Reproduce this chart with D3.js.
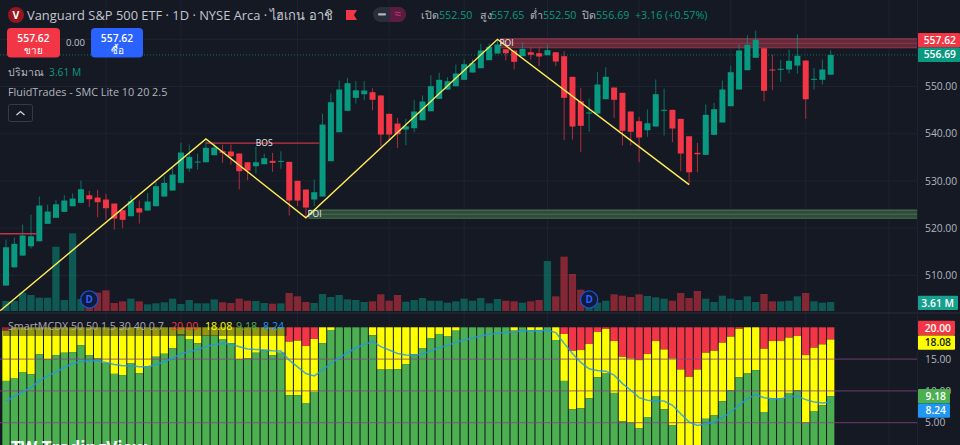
<!DOCTYPE html>
<html>
<head>
<meta charset="utf-8">
<script src="https://cdnjs.cloudflare.com/ajax/libs/d3/7.8.5/d3.min.js"></script>
<style>
    html, body { margin: 0; padding: 0; background: #151924; overflow: hidden; }
    svg { display: block; }
    text { font-family: "Open Sans", "Noto Sans", sans-serif; }
</style>
</head>
<body>
<div id="mainDiv"></div>
<script>
// daily candles
var opens = [
    507.83, 511.70, 514.18, 516.15, 517.21, 520.90, 522.17, 523.44, 524.63, 525.35,
    526.96, 526.47, 526.05, 525.20, 523.78, 522.51, 524.21, 523.72, 524.63, 526.69,
    527.96, 529.59, 532.62, 533.89, 533.95, 535.44, 536.28, 536.22, 535.80, 533.95,
    533.11, 533.53, 534.25, 534.10, 534.04, 530.01, 528.17, 526.05, 526.69, 534.17,
    540.31, 544.85, 547.60, 548.36, 548.79, 548.09, 544.21, 542.15, 540.88, 541.16,
    542.85, 544.76, 547.39, 549.36, 550.06, 551.41, 552.96, 553.87, 555.57, 556.99,
    557.90, 557.62, 556.42, 557.26, 557.05, 556.63, 557.26, 556.42, 552.05, 546.88,
    544.34, 544.27, 547.30, 549.78, 548.66, 544.70, 542.64, 540.73, 541.52, 544.85,
    545.06, 543.15, 539.46, 535.95, 535.52, 539.76, 542.37, 545.82, 549.36, 553.45,
    556.08, 558.11, 553.60, 553.53, 553.60, 554.44, 555.50, 551.41, 551.41, 552.50
];
var highs = [
    517.57, 518.00, 520.75, 522.87, 526.69, 524.99, 525.90, 526.96, 527.32, 530.07,
    527.89, 528.10, 527.26, 525.20, 523.78, 526.96, 525.84, 527.47, 529.86, 530.99,
    533.04, 538.06, 537.70, 535.80, 538.40, 538.13, 537.70, 537.70, 535.80, 533.95,
    537.22, 535.80, 535.95, 536.28, 534.04, 530.01, 528.17, 530.29, 544.27, 548.51,
    551.27, 551.84, 551.12, 551.12, 549.63, 548.09, 544.21, 543.36, 543.15, 547.09,
    548.09, 552.39, 552.90, 551.97, 554.66, 555.72, 555.72, 559.04, 559.11, 559.95,
    557.90, 557.62, 559.38, 558.32, 558.32, 558.90, 557.26, 557.47, 552.05, 549.72,
    547.45, 553.03, 554.08, 549.78, 548.66, 544.70, 543.57, 545.12, 551.48, 549.57,
    545.06, 543.15, 539.46, 538.06, 546.18, 546.54, 551.27, 554.44, 559.04, 560.87,
    561.86, 558.11, 556.71, 555.57, 557.84, 561.01, 555.50, 553.96, 555.72, 557.65
];
var lows = [
    507.70, 511.60, 514.10, 515.67, 517.20, 520.90, 522.17, 523.44, 524.63, 525.35,
    524.50, 522.30, 521.81, 519.69, 519.97, 522.51, 520.96, 523.72, 524.63, 526.69,
    527.96, 529.59, 531.92, 532.41, 533.95, 535.44, 533.83, 533.47, 528.17, 530.14,
    531.56, 533.53, 531.92, 532.56, 522.66, 524.63, 522.24, 524.63, 526.69, 534.17,
    540.31, 544.85, 546.39, 547.09, 544.97, 537.34, 538.40, 537.01, 537.56, 540.31,
    542.85, 544.76, 547.39, 549.36, 550.06, 551.41, 552.96, 553.87, 555.57, 556.99,
    555.50, 553.60, 556.42, 555.72, 554.30, 556.63, 554.30, 538.62, 538.76, 536.07,
    540.40, 544.27, 547.30, 543.36, 537.49, 537.49, 533.95, 539.34, 541.52, 539.61,
    538.19, 532.05, 529.16, 531.83, 535.52, 539.76, 542.37, 545.82, 549.36, 553.45,
    556.08, 546.88, 549.21, 551.00, 552.75, 552.75, 543.15, 549.36, 550.42, 552.50
];
var closes = [
    515.94, 516.66, 518.42, 518.27, 524.78, 523.51, 525.05, 525.84, 526.26, 528.23,
    526.11, 525.48, 524.21, 522.02, 521.75, 525.69, 523.30, 525.63, 528.87, 529.59,
    531.35, 536.01, 535.10, 534.10, 537.01, 537.07, 535.95, 535.23, 532.05, 532.19,
    533.95, 534.80, 533.83, 534.25, 525.84, 525.84, 524.35, 527.60, 541.94, 546.67,
    549.36, 550.69, 549.21, 549.15, 547.18, 539.82, 539.82, 539.89, 541.58, 544.70,
    546.82, 550.06, 551.41, 551.12, 552.75, 554.72, 554.93, 557.62, 558.41, 558.89,
    557.05, 555.23, 557.98, 556.71, 556.35, 557.69, 555.29, 547.60, 541.52, 541.67,
    544.49, 550.42, 552.05, 547.18, 540.61, 540.40, 539.19, 542.22, 548.36, 545.06,
    541.10, 535.80, 531.83, 535.65, 544.00, 545.19, 549.36, 553.03, 557.62, 558.83,
    559.89, 549.08, 553.45, 553.75, 555.44, 556.50, 547.30, 551.63, 553.60, 556.69
];
// volume in millions
var volumes = [
    4.01, 4.01, 7.35, 6.42, 5.35, 5.35, 25.8, 4.41, 31.15, 4.81,
    4.01, 7.35, 8.29, 3.21, 3.88, 4.95, 3.88, 2.67, 3.08, 3.48,
    4.95, 2.81, 4.41, 3.08, 3.08, 4.68, 3.48, 3.21, 4.95, 4.14,
    4.01, 3.21, 2.94, 3.08, 7.22, 5.88, 3.61, 3.21, 6.82, 5.62,
    6.42, 4.68, 4.41, 3.61, 3.88, 6.69, 4.14, 6.42, 3.74, 4.41,
    5.21, 4.14, 4.14, 3.34, 3.88, 4.95, 4.14, 5.21, 3.08, 4.81,
    4.14, 3.88, 3.34, 3.88, 4.41, 20.06, 5.88, 21.8, 14.84, 8.56,
    3.08, 3.34, 4.14, 6.69, 6.15, 5.62, 6.69, 6.02, 5.48, 4.95,
    4.14, 7.22, 5.21, 8.02, 4.95, 3.61, 6.15, 4.95, 4.41, 5.88,
    3.61, 6.82, 3.88, 3.88, 4.14, 5.88, 7.22, 3.88, 3.34, 3.61
];
// SmartMCDX stack tops (red always runs to 20)
var mcdxGreen = [
    11.57, 11.94, 12.89, 12.63, 15.73, 14.94, 15.63, 16.00, 16.10, 17.16,
    15.63, 15.10, 14.31, 12.68, 12.47, 14.31, 12.79, 13.79, 15.37, 15.84,
    16.68, 18.89, 18.16, 17.47, 18.68, 18.68, 18.16, 17.47, 14.94, 15.10,
    16.00, 16.42, 15.63, 16.00, 9.31, 9.31, 8.10, 9.84, 17.47, 19.58,
    20, 20, 20, 20, 18.74, 13.36, 13.36, 13.42, 14.21, 15.73,
    16.74, 18.31, 18.95, 18.63, 19.47, 20, 20, 20, 20, 20,
    20, 19.47, 20, 19.58, 19.58, 20, 18.00, 11.57, 7.10, 7.26,
    8.84, 12.15, 12.73, 9.68, 5.20, 4.99, 4.15, 5.89, 9.20, 7.10,
    4.57, 1.10, 0.80, 1.00, 5.62, 6.15, 8.36, 10.10, 12.15, 12.73,
    13.26, 6.68, 8.78, 8.78, 9.68, 10.10, 4.99, 6.84, 7.73, 9.18
];
var mcdxYellow = [
    19.47, 20, 20, 20, 20, 20, 20, 20, 20, 20,
    20, 20, 20, 20, 20, 20, 20, 20, 20, 20,
    20, 20, 20, 20, 20, 20, 20, 20, 20, 20,
    20, 20, 20, 20, 17.74, 17.89, 17.05, 18.16, 20, 20,
    20, 20, 20, 20, 20, 20, 20, 20, 20, 20,
    20, 20, 20, 20, 20, 20, 20, 20, 20, 20,
    20, 20, 20, 20, 20, 20, 20, 18.95, 16.31, 16.42,
    17.37, 19.26, 19.74, 17.84, 15.37, 15.10, 14.84, 15.79, 17.84, 16.52,
    15.10, 13.36, 12.21, 13.36, 16.00, 16.31, 17.58, 18.53, 19.74, 20,
    20, 16.63, 17.84, 17.84, 18.37, 18.63, 15.63, 16.79, 17.31, 18.08
];
var mcdxBlue = [
    8.41, 9.15, 9.84, 10.52, 11.57, 12.36, 13.00, 13.68, 14.31, 14.58,
    14.73, 14.73, 14.47, 14.15, 13.94, 13.94, 13.79, 13.79, 14.15, 14.58,
    15.10, 15.84, 16.16, 16.52, 16.95, 17.31, 17.47, 17.42, 16.95, 16.58,
    16.52, 16.42, 16.31, 16.26, 14.84, 13.79, 12.73, 12.36, 13.26, 14.31,
    15.21, 16.00, 16.74, 17.31, 17.74, 16.95, 16.42, 15.89, 15.63, 15.58,
    15.79, 16.31, 16.79, 17.16, 17.63, 18.00, 18.31, 18.63, 18.89, 19.05,
    19.21, 19.26, 19.47, 19.47, 19.47, 19.53, 19.16, 17.47, 15.89, 14.47,
    13.47, 13.21, 13.10, 12.47, 11.15, 10.10, 8.94, 8.52, 8.41, 8.41,
    7.73, 6.41, 5.10, 4.57, 4.83, 5.10, 5.78, 6.68, 7.73, 8.78,
    9.42, 8.94, 8.78, 8.78, 9.10, 9.15, 8.63, 8.26, 8.10, 8.24
];
// smc zigzag, as bar index and price
var zigzagBars = [ -0.7, 24, 36, 59, 82 ];
var zigzagPrices = [ 502.5, 538.9, 522.2, 560.0, 529.2 ];

var priceTicks = [ 510, 520, 530, 540, 550 ];
var priceGrid = [ 510, 520, 530, 540, 550, 560 ];
var mcdxTicks = [ 5, 10, 15 ];
var gridBars = [ 12, 21, 35, 46, 55, 65, 76, 87, 96, 106 ];
var dividendBars = [ 10, 70 ];

var TVApp = TVApp || {};

TVApp.main = function () {

    var _width = 960, _height = 445,
        _green = '#089981', _red = '#f23645', _axisText = '#b2b5be',
        _right = 917;

    var svg = d3.select( '#mainDiv' )
        .append( 'svg' )
        .attr( 'width', _width )
        .attr( 'height', _height );

    var x = d3.scaleLinear().domain( [ 0, 99 ] ).range( [ 6, 830.7 ] ),
        y = d3.scaleLinear().domain( [ 510, 550 ] ).range( [ 275.3, 86.5 ] ),
        yVol = d3.scaleLinear().domain( [ 0, 3.61 ] ).range( [ 311, 302 ] ),
        yMcdx = d3.scaleLinear().domain( [ 5, 20 ] ).range( [ 422.7, 327.3 ] );

    // grid
    var grid = svg.append( 'g' ).attr( 'stroke', '#1f2330' ).attr( 'stroke-width', 1 );
    grid.selectAll( '.gridV' ).data( gridBars ).enter().append( 'line' )
        .attr( 'x1', function ( d ) { return x( d ); } )
        .attr( 'x2', function ( d ) { return x( d ); } )
        .attr( 'y1', 0 ).attr( 'y2', _height );
    grid.selectAll( '.gridH' ).data( priceGrid ).enter().append( 'line' )
        .attr( 'x1', 0 ).attr( 'x2', _right )
        .attr( 'y1', function ( d ) { return y( d ); } )
        .attr( 'y2', function ( d ) { return y( d ); } );
    svg.append( 'line' ).attr( 'x1', 0 ).attr( 'x2', _width ).attr( 'y1', 313 ).attr( 'y2', 313 )
        .attr( 'stroke', '#2a2e39' );
    svg.append( 'line' ).attr( 'x1', _right + 0.5 ).attr( 'x2', _right + 0.5 ).attr( 'y1', 0 ).attr( 'y2', _height )
        .attr( 'stroke', '#1f2330' );

    // volume
    svg.append( 'g' ).selectAll( 'rect' ).data( volumes ).enter().append( 'rect' )
        .attr( 'x', function ( d, i ) { return x( i ) - 3.7; } )
        .attr( 'width', 7.3 )
        .attr( 'y', function ( d ) { return yVol( d ); } )
        .attr( 'height', function ( d ) { return yVol( 0 ) - yVol( d ); } )
        .attr( 'fill', function ( d, i ) { return closes[ i ] >= opens[ i ] ? _green : _red; } )
        .attr( 'opacity', 0.5 );

    // poi zones
    var _zone = function ( barFrom, top, bottom, fill, line ) {
        var g = svg.append( 'g' ), mid = ( top + bottom ) / 2;
        g.append( 'rect' )
            .attr( 'x', x( barFrom ) ).attr( 'width', _right - x( barFrom ) )
            .attr( 'y', y( top ) ).attr( 'height', y( bottom ) - y( top ) )
            .attr( 'fill', fill );
        [ top, mid, bottom ].forEach( function ( p ) {
            g.append( 'line' )
                .attr( 'x1', x( barFrom ) ).attr( 'x2', _right )
                .attr( 'y1', y( p ) ).attr( 'y2', y( p ) )
                .attr( 'stroke', line ).attr( 'stroke-width', 1.1 );
        } );
    };
    _zone( 59.3, 560.1, 558.2, '#612b3b', '#93354a' );
    _zone( 36.3, 523.8, 522.1, '#2f4b3b', '#47704d' );

    // last price dotted line
    svg.append( 'line' )
        .attr( 'x1', 0 ).attr( 'x2', _right )
        .attr( 'y1', y( 556.69 ) ).attr( 'y2', y( 556.69 ) )
        .attr( 'stroke', _green ).attr( 'stroke-width', 1 )
        .attr( 'stroke-dasharray', '1 2' ).attr( 'opacity', 0.7 );

    // candles
    var candle = svg.append( 'g' ).selectAll( 'g' ).data( closes ).enter().append( 'g' )
        .attr( 'fill', function ( d, i ) { return d >= opens[ i ] ? _green : _red; } )
        .attr( 'stroke', function ( d, i ) { return d >= opens[ i ] ? _green : _red; } );
    candle.append( 'line' )
        .attr( 'x1', function ( d, i ) { return x( i ); } )
        .attr( 'x2', function ( d, i ) { return x( i ); } )
        .attr( 'y1', function ( d, i ) { return y( highs[ i ] ); } )
        .attr( 'y2', function ( d, i ) { return y( lows[ i ] ); } )
        .attr( 'stroke-width', 1 )
        .attr( 'opacity', 0.7 );
    candle.append( 'rect' )
        .attr( 'x', function ( d, i ) { return x( i ) - 3; } )
        .attr( 'width', 6 )
        .attr( 'y', function ( d, i ) { return y( Math.max( d, opens[ i ] ) ); } )
        .attr( 'height', function ( d, i ) { return Math.max( 1, Math.abs( y( d ) - y( opens[ i ] ) ) ); } )
        .attr( 'stroke', 'none' );

    // bos lines
    var _bos = function ( barFrom, barTo, price ) {
        svg.append( 'line' )
            .attr( 'x1', x( barFrom ) ).attr( 'x2', x( barTo ) )
            .attr( 'y1', y( price ) ).attr( 'y2', y( price ) )
            .attr( 'stroke', '#c23345' ).attr( 'stroke-width', 1.4 );
    };
    _bos( -1, 3.7, 518.8 );
    _bos( 24, 37.6, 538.0 );

    // zigzag
    svg.append( 'path' )
        .attr( 'd', d3.line()
            .x( function ( d ) { return x( d ); } )
            .y( function ( d, i ) { return y( zigzagPrices[ i ] ); } )( zigzagBars ) )
        .attr( 'fill', 'none' )
        .attr( 'stroke', '#ffee58' )
        .attr( 'stroke-width', 1.4 );

    var _label = function ( txt, px, py, size, color, anchor, weight ) {
        return svg.append( 'text' )
            .attr( 'x', px ).attr( 'y', py )
            .attr( 'dy', '0.35em' )
            .attr( 'font-size', size )
            .attr( 'fill', color )
            .attr( 'text-anchor', anchor || 'start' )
            .attr( 'font-weight', weight || 400 )
            .text( txt );
    };
    _label( 'BOS', x( 31 ), y( 538.0 ), 8.5, '#e8e8ea', 'middle' );
    _label( 'POI', 499.5, y( 559.15 ), 8.5, '#eeeeee' );
    _label( 'POI', 307.5, y( 522.95 ), 8.5, '#eeeeee' );

    // dividend markers
    var div = svg.append( 'g' ).selectAll( 'g' ).data( dividendBars ).enter().append( 'g' )
        .attr( 'transform', function ( d ) { return 'translate(' + x( d ) + ',299.5)'; } );
    div.append( 'circle' ).attr( 'r', 8.6 ).attr( 'fill', '#101a3a' ).attr( 'stroke', '#2250c8' ).attr( 'stroke-width', 1.4 );
    div.append( 'text' ).attr( 'text-anchor', 'middle' ).attr( 'dy', '0.36em' )
        .attr( 'font-size', 10 ).attr( 'font-weight', 700 ).attr( 'fill', '#2962ff' ).text( 'D' );

    // smartmcdx pane
    var mcdx = svg.append( 'g' ).selectAll( 'g' ).data( mcdxGreen ).enter().append( 'g' );
    var _stack = function ( fill, top, bottom ) {
        mcdx.append( 'rect' )
            .attr( 'x', function ( d, i ) { return x( i ) - 3.65; } )
            .attr( 'width', 7.3 )
            .attr( 'y', function ( d, i ) { return yMcdx( top( i ) ); } )
            .attr( 'height', function ( d, i ) { return yMcdx( bottom( i ) ) - yMcdx( top( i ) ); } )
            .attr( 'fill', fill );
    };
    _stack( '#f23645', function () { return 20; }, function ( i ) { return mcdxYellow[ i ]; } );
    _stack( '#ffff00', function ( i ) { return mcdxYellow[ i ]; }, function ( i ) { return mcdxGreen[ i ]; } );
    _stack( '#4caf50', function ( i ) { return mcdxGreen[ i ]; }, function () { return 0; } );

    svg.append( 'g' ).selectAll( 'line' ).data( mcdxTicks ).enter().append( 'line' )
        .attr( 'x1', 0 ).attr( 'x2', _right )
        .attr( 'y1', function ( d ) { return yMcdx( d ); } )
        .attr( 'y2', function ( d ) { return yMcdx( d ); } )
        .attr( 'stroke', '#844282' ).attr( 'stroke-width', 1.3 ).attr( 'opacity', 0.65 );

    svg.append( 'path' )
        .attr( 'd', d3.line()
            .x( function ( d, i ) { return x( i ); } )
            .y( function ( d ) { return yMcdx( d ); } )( mcdxBlue ) )
        .attr( 'fill', 'none' )
        .attr( 'stroke', '#2196f3' )
        .attr( 'stroke-width', 1.5 )
        .attr( 'opacity', 0.8 );

    // right axes
    var _axisStyle = function ( g ) {
        g.select( '.domain' ).remove();
        g.selectAll( 'text' ).attr( 'fill', _axisText ).attr( 'font-size', 10.3 ).attr( 'font-family', '"Open Sans", sans-serif' );
    };
    svg.append( 'g' )
        .attr( 'transform', 'translate(925,0)' )
        .call( d3.axisRight( y ).tickValues( priceTicks ).tickSize( 0 ).tickPadding( 0 ).tickFormat( d3.format( '.2f' ) ) )
        .call( _axisStyle );
    svg.append( 'g' )
        .attr( 'transform', 'translate(925,0)' )
        .call( d3.axisRight( yMcdx ).tickValues( mcdxTicks ).tickSize( 0 ).tickPadding( 0 ).tickFormat( d3.format( '.2f' ) ) )
        .call( _axisStyle );

    var _tag = function ( txt, top, w, fill, color ) {
        svg.append( 'rect' )
            .attr( 'x', 918 ).attr( 'y', top ).attr( 'width', w ).attr( 'height', 14.4 )
            .attr( 'rx', 1 ).attr( 'fill', fill );
        _label( txt, 918 + w - 4, top + 7.2, 10.3, color, 'end', 600 );
    };
    _tag( '557.62', 33, 42, '#f23645', '#ffffff' );
    _tag( '556.69', 47.6, 42, _green, '#ffffff' );
    _tag( '3.61 M', 295.7, 40, '#16a08d', '#ffffff' );
    _tag( '20.00', 320.8, 37, '#f23645', '#ffffff' );
    _tag( '18.08', 335.4, 37, '#ffff00', '#131722' );
    _tag( '9.18', 389, 32, '#4caf50', '#ffffff' );
    _tag( '8.24', 403.4, 32, '#2196f3', '#ffffff' );

    // mcdx legend
    svg.append( 'rect' ).attr( 'x', 3 ).attr( 'y', 321 ).attr( 'width', 284 ).attr( 'height', 15 )
        .attr( 'fill', '#131722' ).attr( 'opacity', 0.45 );
    var legendY = 325.8;
    _label( 'SmartMCDX 50 50 1.5 30 40 0.7', 8, legendY, 10.7, '#a9abb3' );
    _label( '20.00', 171, legendY, 10.7, '#f23645' );
    _label( '18.08', 205, legendY, 10.7, '#ffff00' );
    _label( '9.18', 236, legendY, 10.7, '#4caf50' );
    _label( '8.24', 263, legendY, 10.7, '#2196f3' );

    // header
    svg.append( 'circle' ).attr( 'cx', 16 ).attr( 'cy', 15 ).attr( 'r', 8 ).attr( 'fill', '#96161e' );
    _label( 'V', 16, 15, 10.5, '#ffffff', 'middle', 700 );
    _label( 'Vanguard S&P 500 ETF · 1D · NYSE Arca · ไฮเกน อาชิ', 27, 15, 12.9, '#c4c6cd' );
    svg.append( 'path' ).attr( 'd', 'M346 10H357L354 15L357 20H346Z' ).attr( 'fill', '#f23645' );

    svg.append( 'rect' ).attr( 'x', 373 ).attr( 'y', 7 ).attr( 'width', 33 ).attr( 'height', 15 ).attr( 'rx', 7.5 ).attr( 'fill', '#2a2e39' );
    svg.append( 'path' ).attr( 'd', 'M390 7H398.5A7.5 7.5 0 0 1 398.5 22H390Z' ).attr( 'fill', '#5c1c42' );
    svg.append( 'rect' ).attr( 'x', 378 ).attr( 'y', 13.2 ).attr( 'width', 8 ).attr( 'height', 2.4 ).attr( 'rx', 1 ).attr( 'fill', '#b2b5be' );
    _label( '≈', 398, 14, 12, '#c2356f', 'middle' );

    _label( 'เปิด', 421, 15, 10.7, '#b2b5be' );
    _label( '552.50', 439, 15, 10.7, _green );
    _label( 'สูง', 480, 15, 10.7, '#b2b5be' );
    _label( '557.65', 491, 15, 10.7, _green );
    _label( 'ต่ำ', 530, 15, 10.7, '#b2b5be' );
    _label( '552.50', 543, 15, 10.7, _green );
    _label( 'ปิด', 582, 15, 10.7, '#b2b5be' );
    _label( '556.69', 596, 15, 10.7, _green );
    _label( '+3.16 (+0.57%)', 635, 15, 10.7, _green );

    // sell / buy
    svg.append( 'rect' ).attr( 'x', 7 ).attr( 'y', 28 ).attr( 'width', 53 ).attr( 'height', 29.5 ).attr( 'rx', 4 ).attr( 'fill', '#f23645' );
    _label( '557.62', 33.5, 38, 10.3, '#ffffff', 'middle', 600 );
    _label( 'ขาย', 33.5, 50, 10, '#ffffff', 'middle' );
    _label( '0.00', 75.5, 42.5, 9.5, '#c4c6cd', 'middle' );
    svg.append( 'rect' ).attr( 'x', 91 ).attr( 'y', 28 ).attr( 'width', 52 ).attr( 'height', 29.5 ).attr( 'rx', 4 ).attr( 'fill', '#2962ff' );
    _label( '557.62', 117, 38, 10.3, '#ffffff', 'middle', 600 );
    _label( 'ซื้อ', 117, 50, 10, '#ffffff', 'middle' );

    _label( 'ปริมาณ', 8, 72, 10.5, '#b2b5be' );
    _label( '3.61 M', 49, 72, 10.3, _green );
    _label( 'FluidTrades - SMC Lite 10 20 2.5', 8, 92, 10.8, '#b2b5be' );

    svg.append( 'rect' ).attr( 'x', 8.5 ).attr( 'y', 104.5 ).attr( 'width', 24 ).attr( 'height', 17 ).attr( 'rx', 2 )
        .attr( 'fill', '#151924' ).attr( 'stroke', '#363a45' );
    svg.append( 'path' ).attr( 'd', 'M16.5 115L20.5 111.5L24.5 115' ).attr( 'fill', 'none' ).attr( 'stroke', '#d1d4dc' ).attr( 'stroke-width', 1.3 );

    // watermark cut by the crop
    svg.append( 'text' ).attr( 'x', 11 ).attr( 'y', 454 )
        .attr( 'font-size', 17 ).attr( 'font-weight', 700 ).attr( 'fill', '#ffffff' )
        .text( 'TW TradingView' );
}();
</script>
</body>
</html>
